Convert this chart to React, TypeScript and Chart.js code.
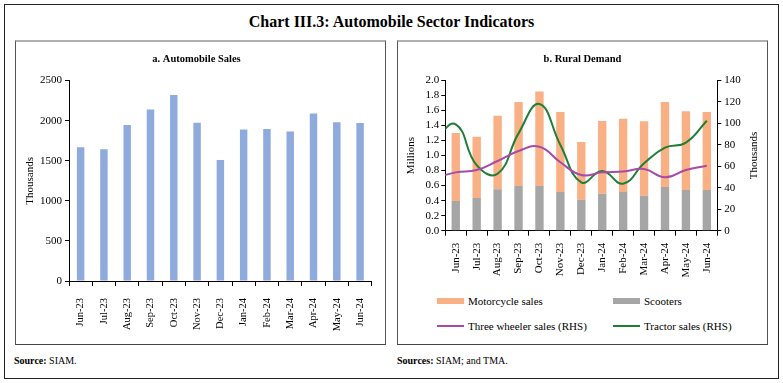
import React, { useEffect, useRef } from "react";
import { Chart, registerables } from "chart.js";

Chart.register(...registerables);

const FONT = "'Liberation Serif', 'Times New Roman', serif";

// ---- data ----
const months = ["Jun-23", "Jul-23", "Aug-23", "Sep-23", "Oct-23", "Nov-23", "Dec-23", "Jan-24", "Feb-24", "Mar-24", "Apr-24", "May-24", "Jun-24"];
const automobileSales = [1670, 1645, 1945, 2140, 2320, 1975, 1510, 1890, 1895, 1865, 2090, 1980, 1970];

const scooters = [0.395, 0.435, 0.55, 0.595, 0.595, 0.515, 0.41, 0.49, 0.515, 0.465, 0.58, 0.54, 0.54];
const motorcycleSales = [0.905, 0.815, 0.98, 1.115, 1.255, 1.065, 0.77, 0.97, 0.975, 0.99, 1.13, 1.05, 1.04];

// line series start one month earlier (May-23), the curve enters from the left edge
const lineMonths = ["May-23", ...months];
const threeWheelerSales = [49, 54.3, 56.5, 64.9, 74.2, 78.2, 63.7, 51.8, 54.3, 55, 57.4, 49.7, 56.5, 60.5];
const tractorSales = [85, 99, 61, 53, 90.6, 118, 79.8, 45, 55.6, 43.8, 62.7, 77.3, 82, 102.4];

const leftTicks = { min: 0, max: 2500, step: 500 };
const ruralLeftTicks = { min: 0, max: 2.0, step: 0.2 };
const ruralRightTicks = { min: 0, max: 140, step: 20 };

const COLORS = {
  blue: "#8faadc",
  orange: "#f8b084",
  gray: "#a6a6a6",
  purple: "#a64ca6",
  green: "#1f7f35",
};

const rightTitlePlugin = {
  id: "rightTitle",
  afterDraw(chart: any, _args: any, opts: any) {
    if (!opts || !opts.text) return;
    const { ctx, chartArea } = chart;
    ctx.save();
    ctx.font = `11px ${FONT}`;
    ctx.fillStyle = "#000";
    ctx.textAlign = "center";
    ctx.textBaseline = "middle";
    ctx.translate(opts.x, (chartArea.top + chartArea.bottom) / 2);
    ctx.rotate(-Math.PI / 2);
    ctx.fillText(opts.text, 0, 0);
    ctx.restore();
  },
};

function AutomobileChart() {
  const ref = useRef<HTMLCanvasElement | null>(null);
  useEffect(() => {
    if (!ref.current) return;
    const chart = new Chart(ref.current, {
      type: "bar",
      data: {
        labels: months,
        datasets: [
          {
            label: "Automobile sales",
            data: automobileSales,
            backgroundColor: COLORS.blue,
            barPercentage: 0.32,
            categoryPercentage: 1,
          },
        ],
      },
      options: {
        animation: false,
        responsive: false,
        layout: { padding: { left: 0, right: 8, top: 0, bottom: 0 } },
        plugins: {
          legend: { display: false },
          tooltip: { enabled: false },
          title: {
            display: true,
            text: "a. Automobile Sales",
            color: "#000",
            font: { family: FONT, size: 10.5, weight: "bold" },
            padding: { top: 12, bottom: 15 },
          },
        },
        scales: {
          x: {
            afterFit: (s: any) => { s.height = 63; },
            grid: { display: true, drawOnChartArea: false, tickLength: 5, color: "#000", offset: true },
            border: { color: "#000", width: 1 },
            ticks: { color: "#000", font: { family: FONT, size: 10.5 }, maxRotation: 90, minRotation: 90, padding: 12, autoSkip: false },
          },
          y: {
            min: leftTicks.min,
            max: leftTicks.max,
            afterFit: (s: any) => { s.width = 53; },
            grid: { display: true, drawOnChartArea: false, tickLength: 4, color: "#000" },
            border: { color: "#000", width: 1 },
            ticks: { stepSize: leftTicks.step, autoSkip: false, color: "#000", font: { family: FONT, size: 11 }, padding: 3, callback: (v: any) => String(v) },
            title: { display: true, text: "Thousands", color: "#000", font: { family: FONT, size: 11 }, padding: { top: 8, bottom: 0 } },
          },
        },
      } as any,
    });
    return () => chart.destroy();
  }, []);
  return <canvas ref={ref} width={369} height={303} style={{ display: "block" }} />;
}

function RuralChart() {
  const ref = useRef<HTMLCanvasElement | null>(null);
  useEffect(() => {
    if (!ref.current) return;
    const lead = lineMonths.length - months.length;
    const toPoints = (vals: number[]) => vals.map((v, i) => ({ x: i - lead, y: v }));
    const chart = new Chart(ref.current, {
      type: "bar",
      data: {
        labels: months,
        datasets: [
          {
            label: "Scooters",
            data: scooters,
            backgroundColor: COLORS.gray,
            barPercentage: 0.4,
            categoryPercentage: 1,
            grouped: false,
            xAxisID: "x",
            yAxisID: "y",
            order: 1,
          },
          {
            label: "Motorcycle sales",
            data: motorcycleSales,
            backgroundColor: COLORS.orange,
            barPercentage: 0.4,
            categoryPercentage: 1,
            grouped: false,
            xAxisID: "x",
            yAxisID: "y",
            order: 1,
          },
          {
            type: "line",
            label: "Three wheeler sales (RHS)",
            data: toPoints(threeWheelerSales),
            borderColor: COLORS.purple,
            borderWidth: 2,
            pointRadius: 0,
            tension: 0.45,
            xAxisID: "xl",
            yAxisID: "y1",
            order: 0,
          },
          {
            type: "line",
            label: "Tractor sales (RHS)",
            data: toPoints(tractorSales),
            borderColor: COLORS.green,
            borderWidth: 2,
            pointRadius: 0,
            tension: 0.45,
            xAxisID: "xl",
            yAxisID: "y1",
            order: 0,
          },
        ],
      },
      options: {
        animation: false,
        responsive: false,
        layout: { padding: { left: 0, right: 0, top: 0, bottom: 0 } },
        plugins: {
          legend: { display: false },
          tooltip: { enabled: false },
          title: {
            display: true,
            text: "b. Rural Demand",
            color: "#000",
            font: { family: FONT, size: 10.5, weight: "bold" },
            padding: { top: 12, bottom: 14.7 },
          },
          rightTitle: { text: "Thousands", x: 356 },
        },
        scales: {
          x: {
            type: "category",
            stacked: true,
            afterFit: (s: any) => { s.height = 50.3; },
            grid: { display: true, drawOnChartArea: false, tickLength: 5, color: "#000", offset: true },
            border: { color: "#000", width: 1 },
            ticks: { color: "#000", font: { family: FONT, size: 11 }, maxRotation: 90, minRotation: 90, padding: 7, autoSkip: false },
          },
          xl: {
            type: "linear",
            display: false,
            offset: false,
            grid: { offset: false },
            min: -0.5,
            max: months.length - 0.5,
          },
          y: {
            stacked: true,
            min: ruralLeftTicks.min,
            max: ruralLeftTicks.max,
            afterFit: (s: any) => { s.width = 47.3; },
            grid: { display: true, drawOnChartArea: false, tickLength: 4, color: "#000" },
            border: { color: "#000", width: 1 },
            ticks: { stepSize: ruralLeftTicks.step, autoSkip: false, color: "#000", font: { family: FONT, size: 11 }, padding: 2, callback: (v: any) => Number(v).toFixed(1) },
            title: { display: true, text: "Millions", color: "#000", font: { family: FONT, size: 11 }, padding: { top: 7, bottom: 0 } },
          },
          y1: {
            position: "right",
            min: ruralRightTicks.min,
            max: ruralRightTicks.max,
            afterFit: (s: any) => { s.width = 49.7; },
            grid: { display: true, drawOnChartArea: false, tickLength: 4, color: "#000" },
            border: { color: "#000", width: 1 },
            ticks: { stepSize: ruralRightTicks.step, autoSkip: false, color: "#000", font: { family: FONT, size: 11 }, padding: 3 },
          },
        },
      } as any,
      plugins: [rightTitlePlugin],
    });
    return () => chart.destroy();
  }, []);
  return <canvas ref={ref} width={369} height={240} style={{ display: "block" }} />;
}

const legendItems = [
  { label: "Motorcycle sales", color: COLORS.orange, kind: "box" },
  { label: "Scooters", color: COLORS.gray, kind: "box" },
  { label: "Three wheeler sales (RHS)", color: COLORS.purple, kind: "line" },
  { label: "Tractor sales (RHS)", color: COLORS.green, kind: "line" },
];

function Legend() {
  return (
    <>
      {legendItems.map((it, i) => {
        const col = i % 2;
        const row = Math.floor(i / 2);
        const left = col === 0 ? 437 : 613;
        const cy = row === 0 ? 301 : 326;
        return (
          <div key={it.label} style={{ position: "absolute", left, top: cy - 8, height: 16, display: "flex", alignItems: "center", whiteSpace: "nowrap" }}>
            <span style={{ display: "inline-block", width: 27, height: it.kind === "box" ? 6 : 2, background: it.color, marginRight: 4 }} />
            <span style={{ fontFamily: FONT, fontSize: 11, color: "#000" }}>{it.label}</span>
          </div>
        );
      })}
    </>
  );
}

export default function App() {
  const panelBorder = {
    position: "absolute" as const,
    boxSizing: "border-box" as const,
    borderTop: "2px solid #b0b0b0",
    borderLeft: "1.5px solid #555",
    borderRight: "1.5px solid #555",
    borderBottom: "1.5px solid #444",
  };
  return (
    <div style={{ position: "absolute", left: 0, top: 0, width: 783, height: 383, background: "#fff", overflow: "hidden" }}>
      <div style={{ position: "absolute", left: 4, top: 4, width: 775, height: 375, boxSizing: "border-box", border: "1.5px solid #222" }} />
      <div style={{ position: "absolute", left: 0, top: 13, width: 783, textAlign: "center", fontFamily: FONT, fontWeight: "bold", fontSize: 16, color: "#000", lineHeight: "18px" }}>
        Chart III.3: Automobile Sector Indicators
      </div>
      <div style={{ ...panelBorder, left: 15, top: 40, width: 371, height: 305 }} />
      <div style={{ ...panelBorder, left: 397, top: 40, width: 371, height: 305 }} />
      <div style={{ position: "absolute", left: 16, top: 41 }}>
        <AutomobileChart />
      </div>
      <div style={{ position: "absolute", left: 398, top: 41 }}>
        <RuralChart />
      </div>
      <Legend />
      <div style={{ position: "absolute", left: 14, top: 355, fontFamily: FONT, fontSize: 10, color: "#000" }}>
        <b>Source:</b> SIAM.
      </div>
      <div style={{ position: "absolute", left: 397, top: 355, fontFamily: FONT, fontSize: 10, color: "#000" }}>
        <b>Sources:</b> SIAM; and TMA.
      </div>
    </div>
  );
}
